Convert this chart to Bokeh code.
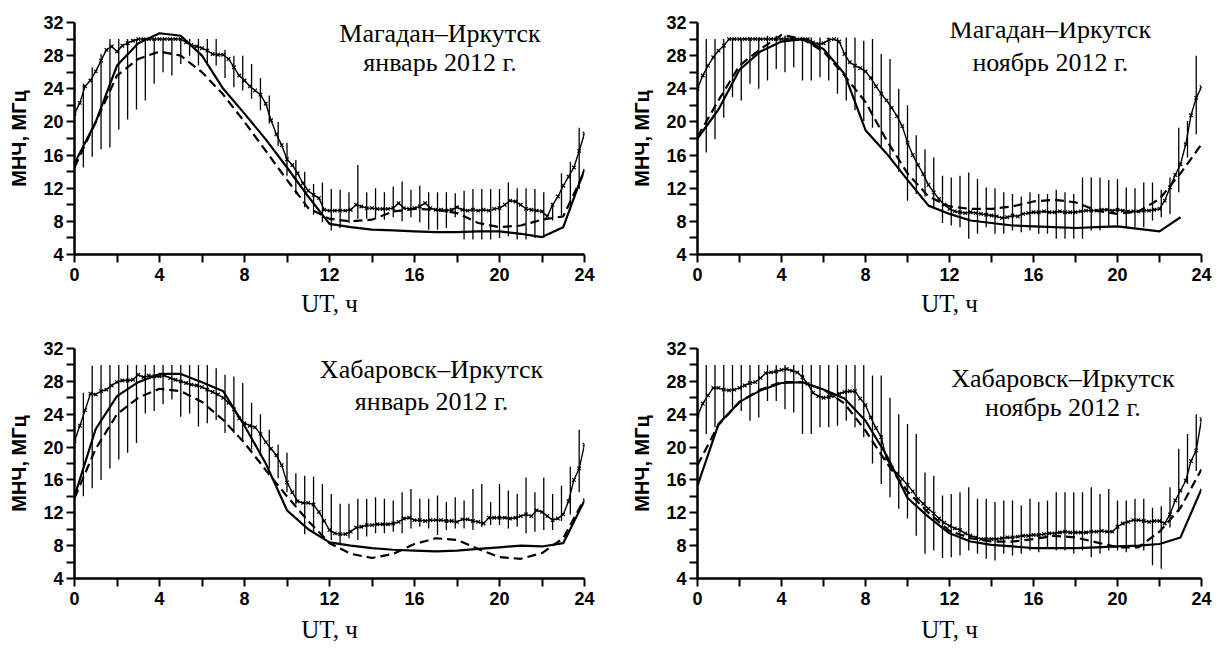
import math
from bokeh.plotting import figure
from bokeh.models import Range1d, FixedTicker, Label
from bokeh.layouts import row, column
from bokeh.embed import file_html
from bokeh.resources import INLINE

# ---------------- data ----------------
HOURS = list(range(25))                      # model curves, hourly nodes
OBS_T = [i / 4 for i in range(97)]           # observed median, every 15 min
BAR_T = [k * 25 / 60 for k in range(1, 58)]  # error bars, every 25 min

X_TICKS = [0, 4, 8, 12, 16, 20, 24]
X_MINOR = [2, 6, 10, 14, 18, 22]
Y_TICKS = [4, 8, 12, 16, 20, 24, 28, 32]
Y_MINOR = [6, 10, 14, 18, 22, 26, 30]

TITLES = [
    ("Магадан–Иркутск", "январь 2012 г."),
    ("Магадан–Иркутск", "ноябрь 2012 г."),
    ("Хабаровск–Иркутск", "январь 2012 г."),
    ("Хабаровск–Иркутск", "ноябрь 2012 г."),
]
Y_LABEL = "МНЧ, МГц"
X_LABEL = "UT, ч"

NAN = float("nan")

# --- Magadan-Irkutsk, January 2012 ---
MJ_OBS = [21.0, 22.3, 24.3, 25.0, 26.1, 27.4, 28.7, 29.1, 28.5, 29.2, 29.5, 29.8,
          30.0, 30.0, 30.0, 30.0, 30.0, 30.0, 30.0, 30.0, 30.0, 29.6, 29.3, 29.1,
          28.9, 28.6, 28.2, 28.1, 28.1, 27.6, 26.6, 25.6, 25.0, 24.3, 23.8, 23.3,
          22.2, 20.2, 18.5, 17.2, 15.5, 14.8, 13.8, 12.6, 11.7, 11.2, 10.8, 9.4,
          9.3, 9.3, 9.3, 9.3, 9.4, 10.0, 9.8, 9.6, 9.6, 9.5, 9.5, 9.5,
          9.6, 10.2, 9.6, 9.5, 9.6, 9.8, 10.2, 9.6, 9.4, 9.4, 9.3, 9.4,
          9.7, 9.4, 9.3, 9.4, 9.3, 9.4, 9.3, 9.5, 9.6, 10.0, 10.5, 10.4,
          10.0, 9.5, 9.4, 9.3, 9.2, 8.6, 10.0, 11.0, 12.3, 13.4, 14.5, 16.5,
          18.6]
MJ_LO = [14.5, 15.8, 16.7, 16.9, 19.1, 20.3, 21.5, 22.6, 24.6, 26.0, 25.6, 27.0,
         28.0, 26.8, 27.0, 26.8, 25.3, 24.2, 23.8, 22.8, 21.4, 19.8, 17.1, 13.5,
         11.3, 9.7, 8.8, 7.9, 6.9, 7.2, 7.8, 8.3, 8.3, 8.5,
         8.2, 8.5, 8.0, 8.5, 7.9, 7.0, 7.0, 7.2, 8.5, 5.8,
         5.8, 5.8, 5.8, 6.0, 6.2, 5.8, 5.8, 6.0, 6.0, 8.1,
         8.7, 9.3, 11.9]
MJ_HI = [24.6, 26.6, 28.2, 30.0, 30.0, 30.0, 30.0, 30.0, 30.0, 30.0, 30.0, 30.0,
         30.0, 30.0, 30.0, 30.0, 28.7, 28.0, 28.0, 27.0, 25.3, 23.2, 20.0, 17.5,
         15.4, 14.0, 12.5, 12.7, 11.9, 11.8, 11.5, 14.8, 11.5, 12.0,
         11.5, 12.2, 12.8, 11.8, 12.3, 11.5, 11.5, 11.5, 11.4, 11.7,
         11.9, 11.9, 11.9, 11.9, 12.7, 12.0, 12.0, 11.9, 11.5, 10.2,
         13.8, 15.2, 19.3]
MJ_SOLID = [15.0, 20.0, 26.8, 29.5, 30.7, 30.4, 28.0, 24.0, 21.0, 17.9, 14.5, 11.0,
            7.7, 7.3, 7.0, 6.9, 6.8, 6.7, 6.7, 6.8, 6.8, 6.5, 6.1, 7.3, 14.3]
MJ_DASH = [14.5, 20.0, 25.6, 27.6, 28.5, 28.0, 26.0, 23.3, 20.0, 16.5, 13.0, 9.6,
           8.3, 8.0, 8.2, 9.2, 9.5, 9.4, 9.0, 7.8, 7.3, 7.5, 8.2, 8.6, 14.0]

# --- Magadan-Irkutsk, November 2012 ---
MN_OBS = [24.0, 25.6, 26.8, 27.8, 28.6, 29.2, 30.0, 30.0, 30.0, 30.0, 30.0, 30.0,
          30.0, 30.0, 30.0, 30.0, 30.0, 30.0, 30.0, 30.0, 30.0, 30.0, 29.6, 29.4,
          29.5, 29.9, 30.0, 29.7, 28.2, 27.2, 26.8, 26.5, 26.1, 25.3, 24.3, 23.4,
          22.6, 21.7, 20.7, 19.5, 17.5, 16.0, 14.8, 13.7, 12.4, 11.5, 10.7, 10.0,
          9.5, 9.2, 9.1, 9.0, 9.1, 9.0, 8.9, 8.8, 8.7, 8.6, 8.4, 8.5,
          8.7, 8.6, 8.9, 9.0, 9.1, 9.1, 9.2, 9.1, 9.1, 9.2, 9.1, 9.1,
          9.1, 9.2, 9.3, 9.3, 9.3, 9.4, 9.4, 9.3, 9.4, 9.3, 9.2, 9.2,
          9.2, 9.3, 9.3, 9.4, 9.5, 10.5, 12.1, 13.6, 14.9, 17.3, 20.8, 22.9,
          24.2]
MN_LO = [16.3, 17.9, 20.5, 23.0, 22.6, 24.6, 24.0, 25.0, 26.4, 26.0, 26.6, 25.0,
         25.0, 25.4, 25.0, 23.4, 22.6, 21.4, 20.1, 19.3, 16.9, 15.7, 14.0, 10.5,
         11.3, 11.0, 9.7, 7.8, 7.5, 7.3, 5.9, 6.5, 7.3, 6.5,
         6.5, 6.9, 6.7, 6.9, 6.5, 6.5, 5.9, 5.9, 5.9, 5.9,
         6.9, 6.9, 7.3, 7.3, 7.3, 7.3, 7.3, 8.1, 8.5, 8.9,
         11.5, 15.7, 18.5]
MN_HI = [30.0, 30.0, 30.0, 30.0, 30.0, 30.2, 30.2, 30.4, 30.4, 30.4, 30.2, 30.2,
         30.2, 30.2, 30.2, 30.2, 30.2, 30.2, 29.8, 30.0, 28.2, 27.6, 24.0, 22.0,
         18.4, 16.7, 15.7, 13.5, 13.3, 13.5, 13.9, 13.1, 12.1, 12.0,
         11.5, 11.3, 11.0, 11.5, 11.3, 11.3, 11.8, 11.5, 11.3, 13.3,
         13.3, 13.3, 13.0, 13.1, 12.1, 12.0, 12.7, 12.7, 11.8, 13.3,
         19.3, 20.1, 28.0]
MN_SOLID = [18.0, 21.5, 26.3, 28.5, 29.7, 30.0, 28.8, 25.8, 19.0, 16.2, 13.0, 9.9,
            8.9, 8.1, 7.8, 7.5, 7.4, 7.3, 7.2, 7.3, 7.4, 7.1, 6.8, 8.5, NAN]
MN_DASH = [18.2, 22.6, 26.8, 28.8, 30.5, 30.0, 28.5, 25.6, 22.4, 17.8, 13.8, 11.0,
           9.8, 9.5, 9.5, 9.8, 10.4, 10.6, 10.3, 9.3, 8.9, 9.2, 10.7, 13.8, 17.3]

# --- Khabarovsk-Irkutsk, January 2012 ---
KJ_OBS = [20.7, 22.6, 24.5, 26.5, 26.4, 26.8, 27.0, 27.5, 27.9, 28.1, 28.1, 28.2,
          28.8, 28.5, 28.7, 28.6, 28.6, 28.7, 28.4, 28.2, 28.0, 27.8, 27.6, 27.5,
          27.3, 27.0, 26.7, 26.4, 26.0, 25.4, 24.6, 23.5, 22.9, 22.6, 22.4, 21.6,
          20.6, 19.8, 19.0, 17.8, 15.7, 14.5, 13.4, 13.2, 13.2, 13.0, 12.1, 11.0,
          9.9, 9.5, 9.4, 9.4, 9.7, 10.2, 10.3, 10.5, 10.5, 10.6, 10.6, 10.6,
          10.7, 10.9, 11.3, 11.4, 11.1, 11.1, 11.0, 11.1, 11.1, 11.1, 11.0, 11.0,
          10.9, 11.2, 11.2, 11.0, 10.9, 10.7, 11.4, 11.4, 11.4, 11.4, 11.3, 11.4,
          11.6, 11.8, 11.6, 12.3, 12.1, 11.6, 11.1, 11.3, 11.8, 13.4, 16.0, 17.4,
          20.3]
KJ_LO = [14.0, 15.0, 16.0, 17.4, 18.5, 19.3, 20.5, 24.1, 24.4, 25.2, 25.8, 23.7,
         24.1, 22.5, 22.9, 23.3, 21.7, 21.7, 20.9, 19.7, 18.9, 17.4, 16.2, 14.5,
         13.0, 9.4, 9.6, 9.1, 8.7, 8.3, 8.9, 8.7, 9.1, 9.5,
         9.5, 9.7, 9.5, 10.1, 10.3, 10.1, 9.3, 9.9, 10.1, 10.1,
         9.9, 10.3, 10.5, 10.5, 10.1, 10.3, 9.5, 9.7, 9.9, 9.9,
         11.0, 11.8, 14.5]
KJ_HI = [26.6, 29.9, 30.0, 30.0, 30.0, 30.0, 30.0, 30.0, 30.0, 30.0, 30.0, 30.0,
         30.0, 30.0, 30.0, 29.6, 28.8, 28.6, 27.8, 25.4, 24.0, 22.1, 20.3, 19.3,
         16.8, 16.5, 16.4, 15.5, 14.3, 13.1, 13.1, 13.7, 13.7, 13.9,
         13.7, 13.5, 14.5, 14.9, 13.7, 13.7, 14.1, 13.3, 13.9, 13.5,
         14.9, 15.5, 13.3, 15.5, 14.7, 14.3, 16.3, 14.5, 16.3, 14.3,
         15.3, 17.6, 22.1]
KJ_SOLID = [14.0, 22.2, 26.2, 27.9, 28.9, 28.9, 27.9, 26.8, 22.6, 18.0, 12.3, 10.0,
            8.4, 8.0, 7.7, 7.5, 7.4, 7.3, 7.4, 7.6, 7.8, 8.0, 7.9, 8.3, 13.5]
KJ_DASH = [13.8, 19.8, 24.0, 26.0, 27.1, 26.8, 25.5, 23.3, 20.5, 17.2, 14.0, 11.0,
           8.3, 7.0, 6.5, 7.0, 8.2, 8.9, 8.7, 7.6, 6.6, 6.4, 7.1, 8.9, 13.7]

# --- Khabarovsk-Irkutsk, November 2012 ---
KN_OBS = [23.8, 25.3, 26.3, 27.2, 27.2, 27.0, 26.9, 27.0, 27.2, 27.5, 27.8, 27.9,
          28.4, 29.0, 29.1, 29.2, 29.4, 29.5, 29.3, 29.1, 28.5, 27.7, 26.6, 26.2,
          26.0, 26.1, 26.2, 26.5, 26.7, 26.8, 26.8, 25.9, 25.1, 23.6, 22.3, 21.2,
          18.6, 17.5, 16.8, 16.1, 15.4, 14.6, 13.7, 13.1, 12.5, 11.9, 11.3, 10.8,
          10.4, 10.1, 9.9, 9.5, 9.2, 9.0, 8.8, 8.8, 8.8, 8.8, 8.9, 9.0,
          9.0, 9.1, 9.2, 9.2, 9.3, 9.3, 9.4, 9.5, 9.5, 9.6, 9.7, 9.6,
          9.6, 9.6, 9.6, 9.7, 9.7, 9.8, 9.7, 9.7, 10.3, 10.7, 10.9, 11.1,
          11.1, 11.0, 10.9, 11.0, 11.0, 10.7, 11.8, 13.5, 14.7, 15.9, 18.3, 19.6,
          23.4]
KN_LO = [21.6, 22.4, 23.6, 24.8, 24.4, 23.2, 23.6, 25.6, 25.6, 24.6, 24.2, 21.6,
         21.6, 22.4, 22.4, 22.6, 23.2, 22.4, 21.2, 18.0, 15.5, 13.9, 12.5, 11.3,
         9.2, 7.0, 7.4, 6.5, 6.6, 6.8, 7.4, 7.0, 6.4, 6.2,
         7.0, 6.8, 7.0, 7.4, 7.2, 7.8, 7.4, 7.4, 7.0, 7.4,
         6.6, 7.0, 7.4, 7.4, 7.2, 7.8, 7.4, 5.6, 5.2, 10.2,
         12.1, 15.5, 17.1]
KN_HI = [30.0, 30.0, 30.0, 30.0, 30.0, 30.0, 30.0, 30.0, 30.0, 30.0, 30.0, 30.0,
         30.0, 30.0, 30.0, 30.0, 30.0, 30.0, 30.0, 28.7, 28.7, 26.0, 24.0, 22.8,
         21.6, 16.9, 16.5, 14.1, 14.3, 14.5, 15.1, 13.7, 13.7, 13.3,
         13.5, 13.5, 12.9, 13.7, 13.3, 13.5, 14.5, 14.5, 14.5, 14.5,
         15.1, 14.3, 14.9, 13.5, 13.5, 13.7, 13.7, 12.6, 12.8, 15.1,
         19.8, 21.6, 24.0]
KN_SOLID = [15.3, 22.8, 25.5, 26.9, 27.8, 27.9, 27.0, 25.9, 23.2, 19.0, 13.8, 11.5,
            9.5, 8.5, 8.1, 7.9, 7.7, 7.7, 7.7, 7.8, 7.9, 8.0, 8.2, 9.0, 14.9]
KN_DASH = [17.8, 22.7, 25.5, 27.0, 27.9, 27.9, 27.0, 25.3, 22.0, 18.1, 14.6, 12.0,
           9.8, 8.9, 8.5, 8.5, 8.8, 9.2, 9.0, 8.4, 7.8, 7.8, 9.7, 12.6, 17.3]


def make_panel(obs, lo, hi, solid, dash, title, geo):
    p = figure(width=geo["w"], height=geo["h"], output_backend="svg",
               toolbar_location=None, tools="",
               x_range=Range1d(0, 24), y_range=Range1d(4, 32),
               min_border_left=geo["l"], min_border_right=geo["r"],
               min_border_top=geo["t"], min_border_bottom=geo["b"])
    p.outline_line_color = None
    p.xgrid.visible = False
    p.ygrid.visible = False
    p.background_fill_color = "white"
    p.border_fill_color = "white"

    # error bars
    p.segment(x0=BAR_T, y0=lo, x1=BAR_T, y1=hi, line_color="black", line_width=1.3)
    # observed median
    p.line(OBS_T, obs, line_color="black", line_width=1.4)
    p.scatter(OBS_T, obs, marker="x", size=5, line_color="black", line_width=1.2)
    # models
    p.line(HOURS, solid, line_color="black", line_width=2.2)
    p.line(HOURS, dash, line_color="black", line_width=2.2, line_dash="9 5")

    for ax, ticks, minor in ((p.xaxis[0], X_TICKS, X_MINOR), (p.yaxis[0], Y_TICKS, Y_MINOR)):
        ax.ticker = FixedTicker(ticks=ticks, minor_ticks=minor)
        ax.axis_line_width = 2.5
        ax.axis_line_color = "black"
        ax.major_tick_line_color = "black"
        ax.minor_tick_line_color = "black"
        ax.major_tick_line_width = 2
        ax.minor_tick_line_width = 2
        ax.major_tick_out = 8
        ax.major_tick_in = 0
        ax.minor_tick_out = 8
        ax.minor_tick_in = 0
        ax.major_label_text_font = "Liberation Sans"
        ax.major_label_text_font_style = "bold"
        ax.major_label_text_font_size = "18px"
        ax.major_label_text_color = "black"
        ax.axis_label_text_color = "black"

    p.xaxis.major_label_standoff = 5
    p.yaxis.major_label_standoff = 3
    p.xaxis.axis_label = X_LABEL
    p.xaxis.axis_label_text_font = "Liberation Serif"
    p.xaxis.axis_label_text_font_style = "normal"
    p.xaxis.axis_label_text_font_size = "25px"
    p.xaxis.axis_label_standoff = geo["xs"]
    p.yaxis.axis_label = Y_LABEL
    p.yaxis.axis_label_text_font = "Liberation Sans"
    p.yaxis.axis_label_text_font_style = "bold"
    p.yaxis.axis_label_text_font_size = "20px"
    p.yaxis.axis_label_standoff = 10

    for txt, yy in ((title[0], geo["ty1"]), (title[1], geo["ty2"])):
        p.add_layout(Label(x=geo["tx"], y=yy, text=txt, text_align="center",
                           text_baseline="alphabetic", text_font="Liberation Serif",
                           text_font_size="26px", text_color="black"))
    return p


GEO = [
    dict(w=620, h=323, l=74, r=36, t=20, b=66, xs=6, tx=17.2, ty1=30.7, ty2=27.2),
    dict(w=598, h=323, l=77, r=17, t=22, b=69, xs=6, tx=16.8, ty1=31.2, ty2=27.2),
    dict(w=620, h=325, l=74, r=36, t=20, b=68, xs=8, tx=16.8, ty1=29.4, ty2=25.6),
    dict(w=598, h=325, l=77, r=17, t=25, b=70, xs=8, tx=17.4, ty1=28.3, ty2=24.8),
]

p1 = make_panel(MJ_OBS, MJ_LO, MJ_HI, MJ_SOLID, MJ_DASH, TITLES[0], GEO[0])
p2 = make_panel(MN_OBS, MN_LO, MN_HI, MN_SOLID, MN_DASH, TITLES[1], GEO[1])
p3 = make_panel(KJ_OBS, KJ_LO, KJ_HI, KJ_SOLID, KJ_DASH, TITLES[2], GEO[2])
p4 = make_panel(KN_OBS, KN_LO, KN_HI, KN_SOLID, KN_DASH, TITLES[3], GEO[3])

layout = column(row(p1, p2), row(p3, p4))
open("out.html", "w").write(file_html(layout, INLINE))
